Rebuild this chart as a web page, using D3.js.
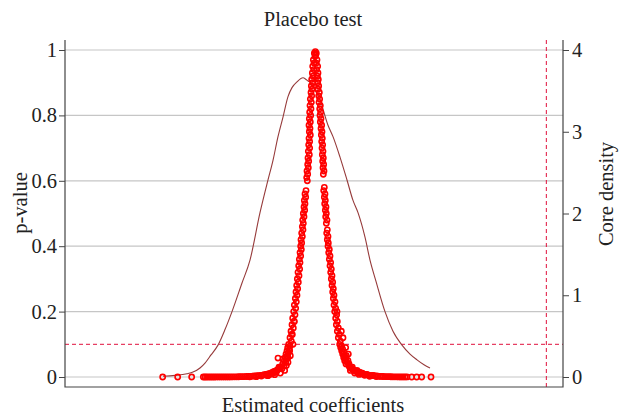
<!DOCTYPE html>
<html lang="en">
<head>
<meta charset="UTF-8">
<title>Placebo test</title>
<script src="https://cdn.jsdelivr.net/npm/d3@7"></script>
<style>
  body { margin: 0; background: #fff; }
</style>
</head>
<body>
<script>
// ticks and reference values
const pTicks = [0, 0.2, 0.4, 0.6, 0.8, 1]
const densityTicks = [0, 1, 2, 3, 4]
const pThreshold = 0.1
const trueCoef = 0.69

// placebo estimates: [coefficient, p-value]
const leftTail = [[-0.461, 0], [-0.416, 0], [-0.374, 0], [-0.339, 0]]
const rightTail = [[0.286, 0], [0.301, 0], [0.316, 0], [0.344, 0]]

const leftBranch = [
  [-0.003, 0.995], [-0.006, 0.99], [-0.004, 0.98], [-0.009, 0.97], [-0.007, 0.96], [-0.011, 0.95],
  [-0.008, 0.94], [-0.012, 0.93], [-0.010, 0.92], [-0.014, 0.91], [-0.011, 0.90], [-0.015, 0.89],
  [-0.013, 0.88], [-0.016, 0.87], [-0.014, 0.86], [-0.018, 0.85], [-0.015, 0.84], [-0.019, 0.83],
  [-0.016, 0.82], [-0.020, 0.81], [-0.017, 0.80], [-0.021, 0.79], [-0.018, 0.78], [-0.022, 0.77],
  [-0.019, 0.76], [-0.021, 0.75], [-0.018, 0.74], [-0.022, 0.73], [-0.020, 0.72], [-0.023, 0.71],
  [-0.020, 0.70], [-0.024, 0.69], [-0.021, 0.68], [-0.025, 0.67], [-0.023, 0.66], [-0.026, 0.65],
  [-0.024, 0.64], [-0.028, 0.63], [-0.026, 0.62], [-0.029, 0.61], [-0.027, 0.60],
  [-0.031, 0.57], [-0.034, 0.56], [-0.032, 0.55], [-0.036, 0.54], [-0.034, 0.53], [-0.037, 0.52],
  [-0.035, 0.51], [-0.039, 0.50], [-0.037, 0.49], [-0.041, 0.48], [-0.039, 0.47], [-0.042, 0.46],
  [-0.040, 0.45], [-0.044, 0.44], [-0.042, 0.43], [-0.046, 0.42], [-0.044, 0.41], [-0.047, 0.40],
  [-0.045, 0.39], [-0.049, 0.38], [-0.047, 0.37], [-0.051, 0.36], [-0.049, 0.35], [-0.053, 0.34],
  [-0.050, 0.33], [-0.055, 0.32], [-0.052, 0.31], [-0.057, 0.30], [-0.054, 0.29], [-0.059, 0.28],
  [-0.056, 0.27], [-0.061, 0.26], [-0.058, 0.25], [-0.063, 0.24], [-0.060, 0.23], [-0.066, 0.22],
  [-0.062, 0.21], [-0.068, 0.20], [-0.064, 0.19], [-0.071, 0.18], [-0.067, 0.17], [-0.073, 0.16],
  [-0.069, 0.15], [-0.076, 0.14], [-0.072, 0.13], [-0.079, 0.12], [-0.075, 0.11], [-0.083, 0.10],
  [-0.079, 0.095], [-0.086, 0.09], [-0.081, 0.085], [-0.088, 0.08], [-0.084, 0.075], [-0.091, 0.07],
  [-0.087, 0.065], [-0.093, 0.06], [-0.089, 0.055], [-0.096, 0.05], [-0.092, 0.045], [-0.101, 0.04],
  [-0.097, 0.035], [-0.106, 0.03], [-0.110, 0.027], [-0.114, 0.024], [-0.118, 0.021], [-0.124, 0.018],
  [-0.128, 0.016], [-0.132, 0.014], [-0.137, 0.012], [-0.142, 0.010], [-0.147, 0.009], [-0.151, 0.008],
  [-0.156, 0.007], [-0.161, 0.006], [-0.166, 0.005], [-0.171, 0.0045], [-0.176, 0.004], [-0.181, 0.0035],
  [-0.186, 0.003], [-0.191, 0.0026], [-0.197, 0.0022], [-0.203, 0.0019], [-0.209, 0.0016], [-0.215, 0.0013],
  [-0.221, 0.0011], [-0.227, 0.0009], [-0.233, 0.0007], [-0.239, 0.0006], [-0.245, 0.0005], [-0.251, 0.0004],
  [-0.257, 0.0003], [-0.263, 0.0003], [-0.269, 0.0002], [-0.275, 0.0002], [-0.281, 0.0001], [-0.287, 0.0001],
  [-0.293, 0.0001], [-0.299, 0.0001], [-0.305, 0], [-0.311, 0], [-0.317, 0], [-0.323, 0],
  [-0.329, 0], [-0.334, 0],
  [-0.090, 0.035], [-0.103, 0.025], [-0.120, 0.015], [-0.128, 0.012], [-0.140, 0.008], [-0.085, 0.045],
  [-0.085, 0.06], [-0.080, 0.08], [-0.112, 0.03], [-0.133, 0.01], [-0.150, 0.005], [-0.165, 0.003],
  [-0.115, 0.058], [-0.095, 0.02], [-0.108, 0.012], [-0.125, 0.007], [-0.145, 0.004], [-0.100, 0.055],
  [-0.074, 0.13], [-0.066, 0.17], [-0.070, 0.10], [-0.078, 0.065], [-0.180, 0.001], [-0.200, 0.0008]
]

const rightBranch = [
  [0.000, 0.99], [-0.002, 0.985], [0.002, 0.97], [0.000, 0.96], [0.004, 0.95], [0.001, 0.94],
  [0.005, 0.93], [0.003, 0.92], [0.006, 0.91], [0.004, 0.90], [0.007, 0.89], [0.005, 0.88],
  [0.009, 0.87], [0.007, 0.86], [0.010, 0.85], [0.008, 0.84], [0.012, 0.83], [0.010, 0.82],
  [0.013, 0.81], [0.011, 0.80], [0.014, 0.79], [0.012, 0.78], [0.016, 0.77], [0.014, 0.76],
  [0.017, 0.75], [0.015, 0.74], [0.018, 0.73], [0.016, 0.72], [0.019, 0.71], [0.017, 0.70],
  [0.020, 0.69], [0.018, 0.68], [0.021, 0.67], [0.019, 0.66], [0.022, 0.65], [0.020, 0.64],
  [0.023, 0.63], [0.021, 0.62],
  [0.024, 0.58], [0.022, 0.57], [0.026, 0.56], [0.024, 0.55], [0.027, 0.54], [0.025, 0.53],
  [0.029, 0.52], [0.027, 0.51], [0.030, 0.50], [0.028, 0.49], [0.032, 0.48], [0.030, 0.47],
  [0.033, 0.45], [0.031, 0.44], [0.035, 0.43], [0.033, 0.42], [0.036, 0.41], [0.035, 0.40],
  [0.039, 0.39], [0.037, 0.38], [0.041, 0.37], [0.039, 0.36], [0.043, 0.35], [0.041, 0.34],
  [0.045, 0.33], [0.043, 0.32], [0.047, 0.31], [0.045, 0.30], [0.049, 0.29], [0.047, 0.28],
  [0.051, 0.27], [0.049, 0.26], [0.053, 0.25], [0.051, 0.24], [0.056, 0.23], [0.053, 0.22],
  [0.058, 0.21], [0.055, 0.20], [0.061, 0.19], [0.058, 0.18], [0.063, 0.17], [0.060, 0.16],
  [0.066, 0.15], [0.063, 0.14], [0.069, 0.13], [0.066, 0.12], [0.072, 0.11], [0.070, 0.10],
  [0.076, 0.095], [0.073, 0.09], [0.079, 0.085], [0.076, 0.08], [0.082, 0.075], [0.079, 0.07],
  [0.085, 0.065], [0.082, 0.06], [0.088, 0.055], [0.085, 0.05], [0.092, 0.045], [0.089, 0.04],
  [0.097, 0.035], [0.100, 0.03], [0.104, 0.027], [0.108, 0.024], [0.112, 0.021], [0.117, 0.018],
  [0.121, 0.016], [0.125, 0.014], [0.130, 0.012], [0.135, 0.010], [0.140, 0.009], [0.145, 0.008],
  [0.150, 0.007], [0.155, 0.006], [0.160, 0.005], [0.165, 0.0045], [0.170, 0.004], [0.175, 0.0035],
  [0.180, 0.003], [0.185, 0.0026], [0.190, 0.0022], [0.195, 0.0019], [0.200, 0.0016], [0.206, 0.0013],
  [0.212, 0.0011], [0.218, 0.0009], [0.224, 0.0007], [0.230, 0.0006], [0.236, 0.0005], [0.242, 0.0004],
  [0.248, 0.0003], [0.254, 0.0003], [0.260, 0.0002], [0.266, 0.0002], [0.272, 0.0001],
  [0.080, 0.12], [0.096, 0.07], [0.095, 0.05], [0.108, 0.03], [0.122, 0.02], [0.138, 0.012],
  [0.152, 0.008], [0.170, 0.005], [0.098, 0.04], [0.130, 0.015], [0.102, 0.02], [0.115, 0.012],
  [0.128, 0.008], [0.145, 0.005], [0.090, 0.065], [0.075, 0.14], [0.062, 0.2], [0.088, 0.09],
  [0.160, 0.002], [0.180, 0.0012]
]

// kernel density of the estimates: [coefficient, density]
const densityCurve = [
  [-0.460, 0.01], [-0.424, 0.02], [-0.388, 0.04], [-0.370, 0.06], [-0.349, 0.11], [-0.334, 0.17],
  [-0.316, 0.27], [-0.295, 0.39], [-0.274, 0.58], [-0.253, 0.80], [-0.223, 1.15], [-0.199, 1.43],
  [-0.169, 2.01], [-0.145, 2.41], [-0.130, 2.65], [-0.115, 2.94], [-0.100, 3.18], [-0.085, 3.43],
  [-0.073, 3.54], [-0.058, 3.61], [-0.040, 3.66], [-0.031, 3.64], [-0.025, 3.62], [-0.019, 3.61],
  [-0.004, 3.51], [0.011, 3.39], [0.035, 3.08], [0.050, 2.94], [0.071, 2.69], [0.092, 2.41],
  [0.110, 2.16], [0.125, 2.01], [0.146, 1.71], [0.161, 1.43], [0.179, 1.17], [0.206, 0.80],
  [0.230, 0.56], [0.257, 0.39], [0.281, 0.28], [0.302, 0.21], [0.323, 0.15], [0.341, 0.11]
]

const width = 623
const height = 419
const plot = { left: 65, right: 563, top: 40, bottom: 387 }
const fontSize = 20.5
const serif = '"Liberation Serif", "Times New Roman", Times, "DejaVu Serif", serif'

const svg = d3.select('body').append('svg')
  .attr('width', width)
  .attr('height', height)
  .style('font-family', serif)

const xScale = d3.scaleLinear().domain([-0.754, 0.74]).range([plot.left, plot.right])
const yScale = d3.scaleLinear().domain([0, 1]).range([377, 50])
const yDensity = d3.scaleLinear().domain([0, 4]).range([377, 50])

// gridlines
svg.append('g')
  .selectAll('line')
  .data(pTicks)
  .enter()
  .append('line')
  .attr('x1', plot.left)
  .attr('x2', plot.right)
  .attr('y1', d => yScale(d))
  .attr('y2', d => yScale(d))
  .attr('stroke', '#c6c6c6')
  .attr('stroke-width', 1.2)

// reference lines
svg.append('line')
  .attr('x1', plot.left).attr('x2', plot.right)
  .attr('y1', yScale(pThreshold)).attr('y2', yScale(pThreshold))
  .attr('stroke', '#e0103c').attr('stroke-width', 1).attr('stroke-dasharray', '4,3')

svg.append('line')
  .attr('x1', xScale(trueCoef)).attr('x2', xScale(trueCoef))
  .attr('y1', plot.top).attr('y2', plot.bottom)
  .attr('stroke', '#e0103c').attr('stroke-width', 1).attr('stroke-dasharray', '4,3')

// density curve
const line = d3.line()
  .x(d => xScale(d[0]))
  .y(d => yDensity(d[1]))
  .curve(d3.curveMonotoneX)

svg.append('path')
  .datum(densityCurve)
  .attr('d', line)
  .attr('fill', 'none')
  .attr('stroke', '#963a3a')
  .attr('stroke-width', 1.1)

// scatter of p-values
const points = [...leftTail, ...leftBranch, ...rightBranch, ...rightTail]

svg.append('g')
  .selectAll('circle')
  .data(points)
  .enter()
  .append('circle')
  .attr('cx', d => xScale(d[0]))
  .attr('cy', d => yScale(d[1]))
  .attr('r', 2.6)
  .attr('fill', 'none')
  .attr('stroke', '#ff0000')
  .attr('stroke-width', 1.6)

// axes
const styleAxis = g => {
  g.select('.domain').remove()
  g.attr('font-size', fontSize).attr('font-family', serif)
  g.selectAll('.tick line').attr('stroke', '#444')
  g.selectAll('.tick text').attr('fill', '#222')
}

svg.append('g')
  .attr('transform', `translate(${plot.left},0)`)
  .call(d3.axisLeft(yScale).tickValues(pTicks).tickSize(6).tickPadding(2).tickFormat(d3.format('~g')))
  .call(styleAxis)

svg.append('g')
  .attr('transform', `translate(${plot.right},0)`)
  .call(d3.axisRight(yDensity).tickValues(densityTicks).tickSize(6).tickPadding(3).tickFormat(d3.format('d')))
  .call(styleAxis)

// frame lines
svg.append('path')
  .attr('d', `M${plot.left},${plot.top}V${plot.bottom}H${plot.right}V${plot.top}`)
  .attr('fill', 'none')
  .attr('stroke', '#444')
  .attr('stroke-width', 1.2)

// titles
const label = (x, y, rotate, txt) => svg.append('text')
  .attr('transform', `translate(${x},${y})` + (rotate ? ' rotate(-90)' : ''))
  .attr('text-anchor', 'middle')
  .attr('font-size', fontSize)
  .attr('font-family', serif)
  .attr('fill', '#222')
  .text(txt)

label(313, 26, false, 'Placebo test')
label(313, 412, false, 'Estimated coefficients')
label(27, 203, true, 'p-value')
label(613, 194, true, 'Core density')
</script>
</body>
</html>
